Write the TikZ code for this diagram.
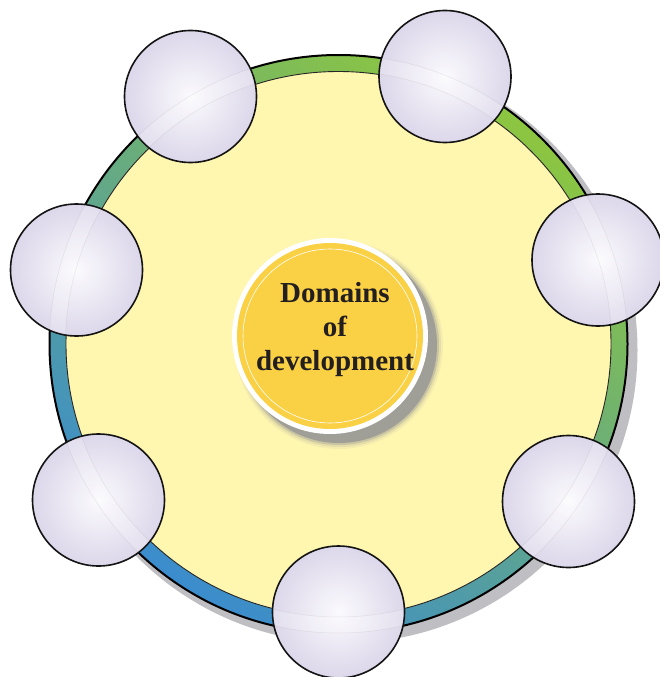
\documentclass[tikz,border=0pt]{standalone}
\usepackage{fontspec}
\setmainfont{Liberation Serif}
\definecolor{ringtop}{HTML}{8DC63F}
\definecolor{ringmid}{HTML}{66AA9C}
\definecolor{ringbot}{HTML}{3A8CCD}
\definecolor{ringyellow}{HTML}{FFF6B0}
\definecolor{ringshadow}{HTML}{BFBFC3}
\definecolor{glassin}{HTML}{FBFAFD}
\definecolor{glassout}{HTML}{DCD7EA}
\definecolor{diskyellow}{HTML}{FAD044}
\definecolor{shadowgray}{HTML}{8A8A92}
\definecolor{textcol}{HTML}{231F20}
\begin{document}
\begin{tikzpicture}[x=1pt,y=-1pt,
  glass/.style={circle, minimum size=132pt, inner sep=0pt, draw=black!92, line width=1.6pt, inner color=glassin, outer color=glassout},
  titletext/.style={font=\bfseries\fontsize{29}{34}\selectfont, text=textcol, align=center, inner sep=0pt}]
\useasboundingbox (0,0) rectangle (659,677);
% ring
\coordinate (C) at (338.5,344);
\coordinate (Cs) at (344.5,350);
\fill[ringshadow] (Cs) circle (293pt);
\shadedraw[top color=ringtop, middle color=ringmid, bottom color=ringbot, shading angle=-35, draw=black, line width=2pt] (C) circle (289pt);
\filldraw[fill=ringyellow, draw=black!85, line width=0.9pt] (C) circle (272.5pt);
% small glass circles
\foreach \n/\px/\py in {g1/190.5/96.5, g2/445/76.5, g3/598/260, g4/76.5/270, g5/98.5/500, g6/338.5/612, g7/568.5/501.5}{
  \node[glass] (\n) at (\px,\py) {};
  \begin{scope}
    \clip (\n.center) circle (65.2pt);
    \fill[white, opacity=0.2, even odd rule] (C) circle (289pt) (C) circle (273pt);
    \draw[gray, opacity=0.15, line width=0.5pt] (C) circle (289pt) (C) circle (273pt);
  \end{scope}
}
% centre disk
\coordinate (D) at (330,336);
\coordinate (Ds) at (339,345);
\foreach \r/\o in {104/0.08, 102/0.15, 100/0.3, 98/0.65}{
  \fill[shadowgray, opacity=\o] (Ds) circle (\r pt);
}
\node[circle, minimum size=196pt, inner sep=0pt, fill=white] (rim) at (D) {};
\node[circle, minimum size=186pt, inner sep=0pt, fill=diskyellow] (disk) at (D) {};
\draw[white, line width=0.6pt] (disk.center) circle (87pt);
\node[titletext] (title) at (335,330) {Domains\\of\\development};
\end{tikzpicture}
\end{document}
